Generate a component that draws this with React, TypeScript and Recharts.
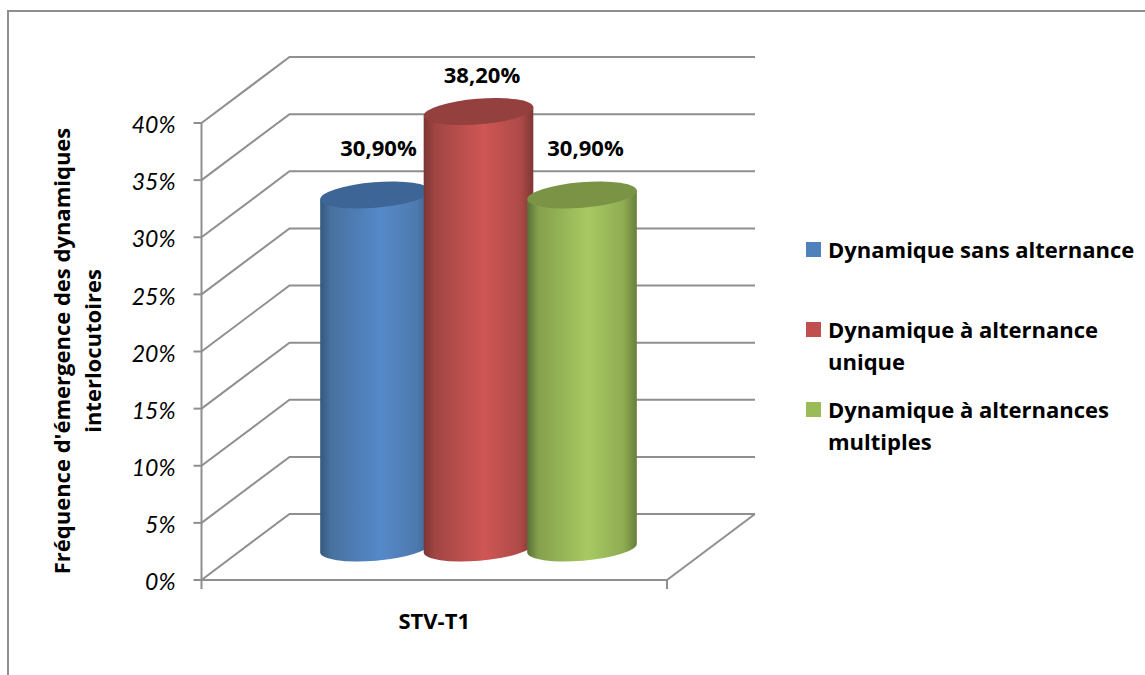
import { Bar, BarChart, CartesianGrid, LabelList, Legend, XAxis, YAxis } from "recharts";

const categories = ["STV-T1"];
const seriesNames = ["Dynamique sans alternance", "Dynamique à alternance unique", "Dynamique à alternances multiples"];
const sansAlternance = [30.9];
const alternanceUnique = [38.2];
const alternancesMultiples = [30.9];
const yTicks = [0, 5, 10, 15, 20, 25, 30, 35, 40];

const data = categories.map((name, i) => ({
  name,
  sans: sansAlternance[i],
  unique: alternanceUnique[i],
  multiples: alternancesMultiples[i],
}));

const FONT = "'Open Sans', Lato, sans-serif";
const TICK_FONT = "Lato, sans-serif";
const BOLD_SIZE = 22;
const LINE = "#8f8f8f";
// depth of the fake 3d box
const DEPTH_X = 88;
const DEPTH_Y = 66;
const RX = 55;
const RY = 12.8;
const TILT = 4.7;

const WallLine = (props: any) => {
  const { x1, x2, y1, index } = props;
  const bx = x1 + DEPTH_X;
  const by = y1 - DEPTH_Y;
  const isFloor = index === 0;
  return (
    <g>
      <polyline points={`${x1},${y1} ${bx},${by} ${x2 + DEPTH_X},${by}`} fill="none" stroke={LINE} strokeWidth={2} />
      {isFloor && (
        <>
          <line x1={x2} y1={y1} x2={x2 + DEPTH_X} y2={by} stroke={LINE} strokeWidth={2} />
          <line x1={x1} y1={y1} x2={x1} y2={y1 + 9} stroke={LINE} strokeWidth={2} />
          <line x1={x2} y1={y1} x2={x2} y2={y1 + 9} stroke={LINE} strokeWidth={2} />
        </>
      )}
    </g>
  );
};

const makeCylinder = (gradId: string, capColor: string) => (props: any) => {
  const { x, y, width, height } = props;
  const cx = x + width / 2 + DEPTH_X / 2;
  const topY = y - DEPTH_Y / 2 + 1;
  const baseY = y + height - DEPTH_Y / 2 + 1;
  const rad = (TILT * Math.PI) / 180;
  const ex = RX * Math.cos(rad);
  const ey = RX * Math.sin(rad);
  const body = `M${cx - ex},${topY + ey} L${cx - ex},${baseY + ey} A${RX},${RY} ${-TILT} 0 0 ${cx + ex},${baseY - ey} L${cx + ex},${topY - ey} Z`;
  return (
    <g>
      <path d={body} fill={`url(#${gradId})`} />
      <ellipse cx={cx} cy={topY} rx={RX} ry={RY} fill={capColor} transform={`rotate(${-TILT} ${cx} ${topY})`} />
    </g>
  );
};

const makeValueLabel = (lift: number) => (props: any) => {
  const { x, y, width, value } = props;
  return (
    <text
      x={x + width / 2 + DEPTH_X / 2 + 3.5}
      y={y - DEPTH_Y / 2 - lift}
      textAnchor="middle"
      dominantBaseline="central"
      fontFamily={FONT}
      fontWeight={700}
      fontSize={BOLD_SIZE}
      fill="#000"
    >
      {value.toFixed(2).replace(".", ",")}%
    </text>
  );
};

const AxisTitle = () => (
  <g transform="translate(61 351) rotate(-90)" fontFamily={FONT} fontWeight={700} fontSize={BOLD_SIZE} fill="#000" textAnchor="middle">
    <text x={0} y={0} dominantBaseline="central">Fréquence d'émergence des dynamiques</text>
    <text x={0} y={31} dominantBaseline="central">interlocutoires</text>
  </g>
);

const LegendList = ({ payload }: any) => (
  <div style={{ fontFamily: FONT, fontWeight: 700, fontSize: BOLD_SIZE, lineHeight: "32px", color: "#000" }}>
    {(payload || []).map((item: any) => (
      <div key={item.value} style={{ position: "relative", height: 80, paddingLeft: 22, width: 330 }}>
        <span style={{ position: "absolute", left: 0, top: 9, width: 15, height: 15, background: item.color }} />
        {item.value}
      </div>
    ))}
  </div>
);

export default function App() {
  return (
    <div style={{ position: "absolute", left: 0, top: 0, width: 1145, height: 675, overflow: "hidden", background: "#fff" }}>
      <div style={{ position: "absolute", left: 7, top: 10, right: 0, bottom: 0, borderLeft: `2px solid ${LINE}`, borderTop: `2px solid ${LINE}` }} />
      <BarChart
        width={1145}
        height={675}
        data={data}
        barSize={109}
        barGap={-5.5}
        margin={{ top: 123, right: 478, bottom: 55, left: 0 }}
        style={{ position: "absolute", left: 0, top: 0 }}
      >
        <defs>
          <linearGradient id="cylBlue" x1="0" y1="0" x2="1" y2="0">
            <stop offset="0%" stopColor="#35597f" />
            <stop offset="10%" stopColor="#47719f" />
            <stop offset="55%" stopColor="#5689ca" />
            <stop offset="88%" stopColor="#4d79ae" />
            <stop offset="100%" stopColor="#3e6593" />
          </linearGradient>
          <linearGradient id="cylRed" x1="0" y1="0" x2="1" y2="0">
            <stop offset="0%" stopColor="#7a3533" />
            <stop offset="10%" stopColor="#a04543" />
            <stop offset="55%" stopColor="#cf5654" />
            <stop offset="88%" stopColor="#ae4a48" />
            <stop offset="100%" stopColor="#7e3735" />
          </linearGradient>
          <linearGradient id="cylGreen" x1="0" y1="0" x2="1" y2="0">
            <stop offset="0%" stopColor="#5a7035" />
            <stop offset="10%" stopColor="#84a04c" />
            <stop offset="55%" stopColor="#a8c962" />
            <stop offset="88%" stopColor="#8fac52" />
            <stop offset="100%" stopColor="#66803b" />
          </linearGradient>
        </defs>
        <CartesianGrid vertical={false} horizontalValues={yTicks} horizontal={(p: any) => <WallLine key={p.index} {...p} />} />
        <XAxis
          dataKey="name"
          height={40}
          axisLine={{ stroke: LINE, strokeWidth: 2 }}
          tickLine={false}
          tickMargin={27}
          tick={{ fontFamily: FONT, fontWeight: 700, fontSize: BOLD_SIZE, fill: "#000" }}
        />
        <YAxis
          width={201.5}
          domain={[0, 40]}
          ticks={yTicks}
          interval={0}
          tickFormatter={(v: number) => `${v}%`}
          axisLine={{ stroke: LINE, strokeWidth: 2 }}
          tickLine={{ stroke: LINE, strokeWidth: 2 }}
          tickSize={8}
          tickMargin={18}
          tick={{ fontFamily: TICK_FONT, fontStyle: "italic", fontSize: 23, fill: "#000", dy: 2 }}
          label={<AxisTitle />}
        />
        <Legend
          layout="vertical"
          align="center"
          verticalAlign="middle"
          content={<LegendList />}
          wrapperStyle={{ position: "absolute", left: 806, top: 233, width: 330 }}
        />
        <Bar dataKey="sans" name={seriesNames[0]} fill="#4f81bd" isAnimationActive={false} shape={makeCylinder("cylBlue", "#3d6696")}>
          <LabelList dataKey="sans" content={makeValueLabel(47)} />
        </Bar>
        <Bar dataKey="unique" name={seriesNames[1]} fill="#c0504d" isAnimationActive={false} shape={makeCylinder("cylRed", "#93403e")}>
          <LabelList dataKey="unique" content={makeValueLabel(37)} />
        </Bar>
        <Bar dataKey="multiples" name={seriesNames[2]} fill="#9bbb59" isAnimationActive={false} shape={makeCylinder("cylGreen", "#7a9344")}>
          <LabelList dataKey="multiples" content={makeValueLabel(47)} />
        </Bar>
      </BarChart>
    </div>
  );
}
